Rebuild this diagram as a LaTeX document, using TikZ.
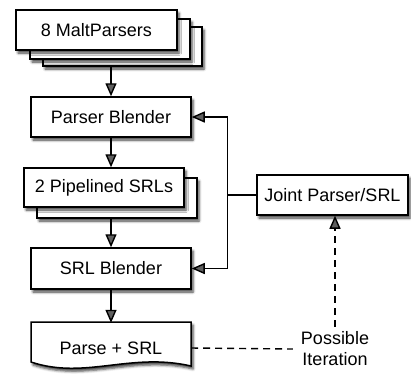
\documentclass[tikz,border=0pt]{standalone}
\usepackage{fontspec}
\setmainfont{Liberation Sans}
\usetikzlibrary{arrows.meta,shadows.blur,calc}

\tikzset{
  softshadow/.style={blur shadow={shadow xshift=2pt, shadow yshift=-3pt,
      shadow blur radius=2.5pt, shadow opacity=75}},
  box/.style={draw=black, fill=white, line width=1.5pt, rectangle,
    minimum width=160pt, minimum height=40pt, inner sep=0pt,
    font=\fontsize{18}{21}\selectfont, softshadow},
  tip/.style={-{Triangle[length=13pt,width=11pt]}},
  flow/.style={line width=1.4pt, tip},
  link/.style={line width=1.4pt},
  maybe/.style={line width=1.4pt, dash pattern=on 7pt off 5pt},
  label/.style={font=\fontsize{18}{21}\selectfont, align=center, inner sep=0pt}
}

\begin{document}
\begin{tikzpicture}[x=1pt, y=-1pt]
  \useasboundingbox (0,0) rectangle (411,376);

  % stack of parsers
  \node[box, minimum width=159pt, minimum height=39pt] (malt3) at (122.5,46.5) {};
  \node[box] (malt2) at (110,39) {};
  \node[box, minimum width=161pt] (malt) at (96.5,30) {8 MaltParsers};

  \node[box] (pb) at (111,117) {Parser Blender};

  % stack of SRL systems
  \node[box] (srl2) at (117,198) {};
  \node[box, minimum height=39pt] (srl) at (104,187.5) {2 Pipelined SRLs};

  \node[box, minimum height=41pt] (sb) at (111,268.5) {SRL Blender};

  % document-shaped output with a wavy lower edge
  \draw[line width=1.5pt, fill=white, softshadow]
    (31,322) -- (191,322) -- (191,366)
    .. controls (130,352) and (85,380) .. (31,362) -- cycle;
  \node[label, minimum width=160pt, minimum height=50pt] (ps) at (111,348) {Parse + SRL};

  \node[box, minimum width=151pt] (joint) at (332.5,195) {Joint Parser/SRL};

  \node[label] (pi) at (335,349) {Possible\\Iteration};

  % main pipeline
  \draw[flow] (pb.north |- malt3.south) -- (pb.north);
  \draw[flow] (pb.south) -- (pb.south |- srl.north);
  \draw[flow] (sb.north |- srl2.south) -- (sb.north);
  \draw[flow] (sb.south) -- (sb.south |- ps.north);

  % feedback from the joint model
  \coordinate (split) at ($(joint.west)+(-29,0)$);
  \draw[link] (joint.west) -- (split);
  \draw[flow] (split) |- (pb.east);
  \draw[flow] (split) |- (sb.east);

  % optional iteration
  \draw[maybe] (ps.east) -- ([xshift=-8pt]pi.west);
  \draw[maybe, tip] ([yshift=5pt]pi.north) -- (pi.north |- joint.south);
\end{tikzpicture}
\end{document}
